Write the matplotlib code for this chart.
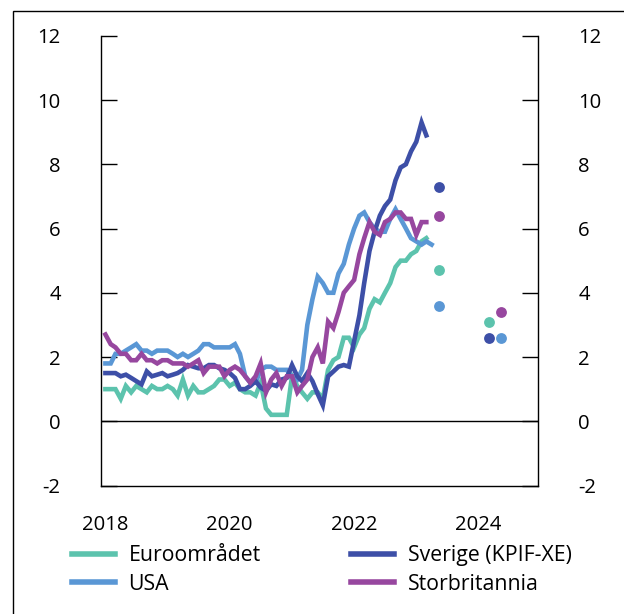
import matplotlib
matplotlib.use('Agg')
import matplotlib.pyplot as plt
import matplotlib.dates as mdates
from matplotlib.patches import Rectangle
import pandas as pd

plt.rcParams['font.family'] = ['Open Sans', 'DejaVu Sans']
plt.rcParams['axes.unicode_minus'] = False

# kjerneinflasjon, tolvmånedersvekst i prosent, månedlig fra jan 2018
euro = [1.0, 1.0, 1.0, 0.7, 1.1, 0.9, 1.1, 1.0, 0.9, 1.1, 1.0, 1.0,
        1.1, 1.0, 0.8, 1.3, 0.8, 1.1, 0.9, 0.9, 1.0, 1.1, 1.3, 1.3,
        1.1, 1.2, 1.0, 0.9, 0.9, 0.8, 1.2, 0.4, 0.2, 0.2, 0.2, 0.2,
        1.4, 1.1, 0.9, 0.7, 0.9, 0.9, 0.7, 1.6, 1.9, 2.0, 2.6, 2.6,
        2.3, 2.7, 2.9, 3.5, 3.8, 3.7, 4.0, 4.3, 4.8, 5.0, 5.0, 5.2,
        5.3, 5.6, 5.7]
usa = [1.8, 1.8, 2.1, 2.1, 2.2, 2.3, 2.4, 2.2, 2.2, 2.1, 2.2, 2.2,
       2.2, 2.1, 2.0, 2.1, 2.0, 2.1, 2.2, 2.4, 2.4, 2.3, 2.3, 2.3,
       2.3, 2.4, 2.1, 1.4, 1.2, 1.2, 1.6, 1.7, 1.7, 1.6, 1.6, 1.6,
       1.4, 1.3, 1.6, 3.0, 3.8, 4.5, 4.3, 4.0, 4.0, 4.6, 4.9, 5.5,
       6.0, 6.4, 6.5, 6.2, 6.0, 5.9, 5.9, 6.3, 6.6, 6.3, 6.0, 5.7,
       5.6, 5.5, 5.6, 5.5]
sverige = [1.5, 1.5, 1.5, 1.4, 1.45, 1.35, 1.25, 1.15, 1.55, 1.4, 1.45, 1.5,
           1.4, 1.45, 1.5, 1.6, 1.75, 1.7, 1.65, 1.65, 1.75, 1.75, 1.65, 1.6,
           1.5, 1.35, 1.0, 1.0, 1.1, 1.25, 1.05, 0.95, 1.15, 1.1, 1.3, 1.35,
           1.75, 1.4, 1.25, 1.5, 1.25, 0.85, 0.5, 1.4, 1.55, 1.7, 1.75, 1.7,
           2.5, 3.3, 4.3, 5.3, 5.9, 6.4, 6.7, 6.9, 7.5, 7.9, 8.0, 8.4,
           8.7, 9.3, 8.9]
storbritannia = [2.7, 2.4, 2.3, 2.1, 2.1, 1.9, 1.9, 2.1, 1.9, 1.9, 1.8, 1.9,
                 1.9, 1.8, 1.8, 1.8, 1.7, 1.8, 1.9, 1.5, 1.7, 1.7, 1.7, 1.4,
                 1.6, 1.7, 1.6, 1.4, 1.2, 1.4, 1.8, 0.9, 1.3, 1.5, 1.1, 1.4,
                 1.4, 0.9, 1.1, 1.3, 2.0, 2.3, 1.8, 3.1, 2.9, 3.4, 4.0, 4.2,
                 4.4, 5.2, 5.7, 6.2, 5.9, 5.8, 6.2, 6.3, 6.5, 6.5, 6.3, 6.3,
                 5.8, 6.2, 6.2]

# anslag for 2023 og 2024 (prikker)
anslag_dato_2023 = '2023-05-15'
anslag_dato_2024_a = '2024-03-05'
anslag_dato_2024_b = '2024-05-10'
anslag_2023 = {'euro': 4.7, 'usa': 3.6, 'sverige': 7.3, 'storbritannia': 6.4}
anslag_2024 = {'euro': 3.1, 'usa': 2.6, 'sverige': 2.6, 'storbritannia': 3.4}
plass_2024 = {'euro': anslag_dato_2024_a, 'sverige': anslag_dato_2024_a,
              'usa': anslag_dato_2024_b, 'storbritannia': anslag_dato_2024_b}

navn = {'euro': 'Euroområdet', 'usa': 'USA', 'sverige': 'Sverige (KPIF-XE)',
        'storbritannia': 'Storbritannia'}
farger = {'euro': '#5CC3AD', 'usa': '#5A97D5', 'sverige': '#3D4FA7',
          'storbritannia': '#97479F'}
serier = {'euro': euro, 'usa': usa, 'sverige': sverige,
          'storbritannia': storbritannia}

fig = plt.figure(figsize=(6.24, 6.14), dpi=100)
ax = fig.add_axes([101 / 624, 1 - 485.5 / 614, 437 / 624, 449.7 / 614])

ax.axhline(0, color='black', lw=1, zorder=1)

for key in ['euro', 'usa', 'sverige', 'storbritannia']:
    verdier = serier[key]
    datoer = pd.date_range('2018-01-01', periods=len(verdier), freq='MS')
    ax.plot(datoer, verdier, color=farger[key], lw=3.3, label=navn[key],
            solid_joinstyle='miter', zorder=3)

for key in ['euro', 'usa', 'sverige', 'storbritannia']:
    ax.plot(pd.Timestamp(anslag_dato_2023), anslag_2023[key], 'o',
            color=farger[key], ms=7.8, mec='none', zorder=4)
    ax.plot(pd.Timestamp(plass_2024[key]), anslag_2024[key], 'o',
            color=farger[key], ms=7.8, mec='none', zorder=4)

ax.set_ylim(-2, 12)
ax.set_yticks(range(-2, 13, 2))
ax.set_xlim(pd.Timestamp('2017-12-06'), pd.Timestamp('2024-12-16'))
ax.set_xticks([pd.Timestamp(f'{y}-01-01') for y in [2018, 2020, 2022, 2024]])
ax.xaxis.set_major_formatter(mdates.DateFormatter('%Y'))

ax.spines['top'].set_visible(False)
for s in ['left', 'right', 'bottom']:
    ax.spines[s].set_linewidth(1)
ax.tick_params(axis='y', which='both', direction='in', length=11.5, width=1,
               left=True, right=True, labelleft=True, labelright=True,
               pad=29, labelsize=14.6)
ax.tick_params(axis='x', length=0, pad=21.5, labelsize=14.6)

h, l = ax.get_legend_handles_labels()
leg = fig.legend(h, l, loc='upper left', bbox_to_anchor=(72 / 624, 1 - 545 / 614),
                 ncol=2, frameon=False, fontsize=15.3, handlelength=2.0,
                 handletextpad=0.66, columnspacing=4.25, labelspacing=0.37,
                 borderpad=0, borderaxespad=0)
for line in leg.get_lines():
    line.set_linewidth(4)

fig.patches.append(Rectangle((13 / 624, -0.1), 1.2, 1 - 11 / 614 + 0.1,
                             transform=fig.transFigure, fill=False,
                             lw=1, ec='black'))

fig.savefig('out.png', dpi=100)
